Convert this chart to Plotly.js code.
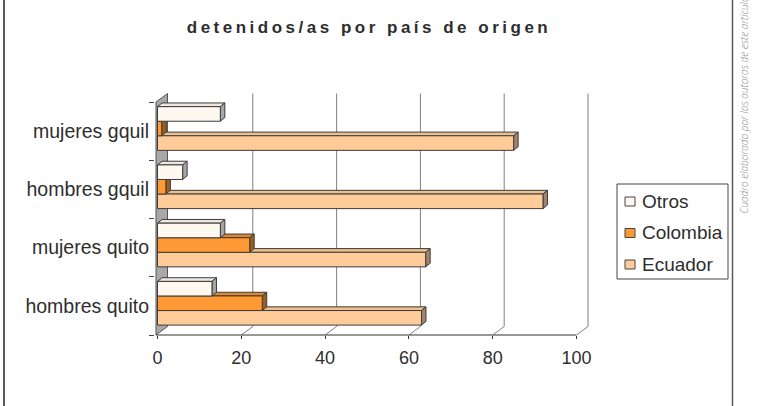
<!DOCTYPE html>
<html>
<head>
<meta charset="utf-8">
<script src="https://cdn.plot.ly/plotly-3.0.1.min.js"></script>
<style>
  html, body { margin: 0; padding: 0; background: #ffffff; }
  #chart { width: 772px; height: 406px; }
  .gtitle { letter-spacing: 3.5px; }
</style>
</head>
<body>
<div id="chart"></div>
<script>
// Categories (bottom to top) and the three series
const categories = ['hombres quito', 'mujeres quito', 'hombres gquil', 'mujeres gquil'];
const ecuador  = [63, 64, 92, 85];
const colombia = [25, 22, 2, 1];
const otros    = [13, 15, 6, 15];
const xTicks   = [0, 20, 40, 60, 80, 100];
const seriesNames = ['Ecuador', 'Colombia', 'Otros'];
const legendNames = ['Otros', 'Colombia', 'Ecuador'];

// ---- styling ----
const FONT = 'Liberation Sans, Arial, sans-serif';
const TXT = '#2e2e2e';
const EDGE = '#3c3c3c';
const frontColors = { Ecuador: '#FFCC99', Colombia: '#FF9933', Otros: '#FFF8EE' };
const topColors   = { Ecuador: '#EDC18F', Colombia: '#DE872E', Otros: '#ECE8E1' };
const sideColors  = { Ecuador: '#A3846A', Colombia: '#A05C1E', Otros: '#A6A6A6' };

// ---- geometry of the figure ----
const W = 772, H = 406;
const M = { l: 155, r: 172, t: 86, b: 71 };
const PW = W - M.l - M.r, PH = H - M.t - M.b;
const X0_PX = 157.5;          // pixel column of value 0 on the front plane
const PX_X = 4.19;            // pixels per unit of value
const PX_Y = 58.25;           // pixels per category band
const xRange = [(M.l - X0_PX) / PX_X, (M.l + PW - X0_PX) / PX_X];
const yRange = [-0.5, -0.5 + PH / PX_Y];

// depth of the floor/wall and of each bar, converted to axis units
const WDX = 11.5 / PX_X, WDY = 8.5 / PX_Y;
const BDX = 4.5 / PX_X,  BDY = 3.7 / PX_Y;
const WALL_X = -1.5 / PX_X;
const BAR_W = 0.25;
const barOffset = { Ecuador: -0.33, Colombia: -0.08, Otros: 0.17 };

const pX = px => (px - M.l) / PW;
const pY = py => (H - M.b - py) / PH;

const valuesOf = { Ecuador: ecuador, Colombia: colombia, Otros: otros };

// front faces of the bars
const traces = seriesNames.map(name => ({
  type: 'bar',
  orientation: 'h',
  name: name,
  y: categories,
  x: valuesOf[name],
  width: BAR_W,
  offset: barOffset[name],
  marker: { color: frontColors[name], line: { color: EDGE, width: 1 } },
  showlegend: false,
  hovertemplate: '%{y}: %{x}<extra>' + name + '</extra>'
}));

const shapes = [];

// side wall on the left
shapes.push({
  type: 'path', xref: 'x', yref: 'y', layer: 'below',
  path: `M${WALL_X},-0.5 L${WALL_X + WDX},${-0.5 + WDY} L${WALL_X + WDX},${3.5 + WDY} L${WALL_X},3.5 Z`,
  fillcolor: '#A8A8A8', line: { color: '#555555', width: 1 }
});

// back-wall gridlines with their floor diagonals
xTicks.filter(v => v > 0).forEach(v => {
  shapes.push({
    type: 'path', xref: 'x', yref: 'y', layer: 'below',
    path: `M${v},-0.5 L${v + WDX},${-0.5 + WDY} L${v + WDX},${3.5 + WDY}`,
    line: { color: '#808080', width: 1 }
  });
});

// top and side faces of every bar
categories.forEach((cat, ci) => {
  seriesNames.forEach(name => {
    const v = valuesOf[name][ci];
    const y0 = ci + barOffset[name];
    const y1 = y0 + BAR_W;
    shapes.push({
      type: 'path', xref: 'x', yref: 'y', layer: 'below',
      path: `M0,${y1} L${v},${y1} L${v + BDX},${y1 + BDY} L${BDX},${y1 + BDY} Z`,
      fillcolor: topColors[name], line: { color: EDGE, width: 1 }
    });
    shapes.push({
      type: 'path', xref: 'x', yref: 'y', layer: 'below',
      path: `M${v},${y0} L${v + BDX},${y0 + BDY} L${v + BDX},${y1 + BDY} L${v},${y1} Z`,
      fillcolor: sideColors[name], line: { color: EDGE, width: 1 }
    });
  });
});

// front axis line along the floor edge
shapes.push({
  type: 'line', xref: 'x', yref: 'paper', layer: 'above',
  x0: WALL_X, x1: xTicks[xTicks.length - 1], y0: 0, y1: 0,
  line: { color: '#333333', width: 1 }
});

// outer frame of the chart area
shapes.push({ type: 'line', xref: 'paper', yref: 'paper', x0: pX(4), x1: pX(4), y0: pY(H), y1: pY(0),
  line: { color: '#5a5a5a', width: 2 } });
shapes.push({ type: 'line', xref: 'paper', yref: 'paper', x0: pX(732.5), x1: pX(732.5), y0: pY(H), y1: pY(0),
  line: { color: '#5a5a5a', width: 1.5 } });

// legend box and swatches
shapes.push({ type: 'rect', xref: 'paper', yref: 'paper',
  x0: pX(617), x1: pX(728), y0: pY(279), y1: pY(184),
  line: { color: '#444444', width: 1 }, fillcolor: '#ffffff' });
const legendRows = [201.5, 233, 264.5];
const annotations = [];
legendNames.forEach((name, i) => {
  const cy = legendRows[i];
  shapes.push({ type: 'rect', xref: 'paper', yref: 'paper',
    x0: pX(625), x1: pX(635), y0: pY(cy + 4.5), y1: pY(cy - 4.5),
    line: { color: '#444444', width: 1 }, fillcolor: frontColors[name] });
  annotations.push({ xref: 'paper', yref: 'paper', x: pX(640), y: pY(cy - 0.5),
    xanchor: 'left', yanchor: 'middle', showarrow: false, text: name,
    font: { family: FONT, size: 19, color: TXT } });
});

// source note running up the right margin
annotations.push({
  xref: 'paper', yref: 'paper', x: pX(743), y: pY(216),
  xanchor: 'center', yanchor: 'bottom', showarrow: false, textangle: -90,
  text: 'Cuadro elaborado por los autoras de este artículo',
  font: { family: 'Open Sans, DejaVu Sans, sans-serif', size: 10, color: '#8a8a8a', style: 'italic', weight: 300 }
});

const layout = {
  width: W, height: H,
  margin: M,
  paper_bgcolor: '#ffffff', plot_bgcolor: 'rgba(0,0,0,0)',
  barmode: 'overlay',
  showlegend: false,
  title: {
    text: 'detenidos/as por país de origen',
    xref: 'container', yref: 'container', x: 369 / W, y: 1 - 27 / H,
    xanchor: 'center', yanchor: 'middle',
    font: { family: FONT, size: 17, color: TXT, weight: 'bold' }
  },
  xaxis: {
    range: xRange, fixedrange: true,
    tickvals: xTicks, ticktext: xTicks.map(String),
    ticks: 'outside', ticklen: 3, tickcolor: '#333333', tickwidth: 1,
    showgrid: false, zeroline: false, showline: false,
    tickfont: { family: FONT, size: 18, color: TXT },
    ticklabelstandoff: 3
  },
  yaxis: {
    type: 'category', categoryorder: 'array', categoryarray: categories,
    range: yRange, fixedrange: true,
    tickson: 'boundaries', ticks: 'outside', ticklen: 5, tickcolor: '#444444', tickwidth: 1,
    showgrid: false, zeroline: false, showline: false,
    tickfont: { family: FONT, size: 19.5, color: TXT },
    ticklabelstandoff: 5
  },
  shapes: shapes,
  annotations: annotations
};

Plotly.newPlot('chart', traces, layout, { displayModeBar: false, staticPlot: true });
</script>
</body>
</html>
